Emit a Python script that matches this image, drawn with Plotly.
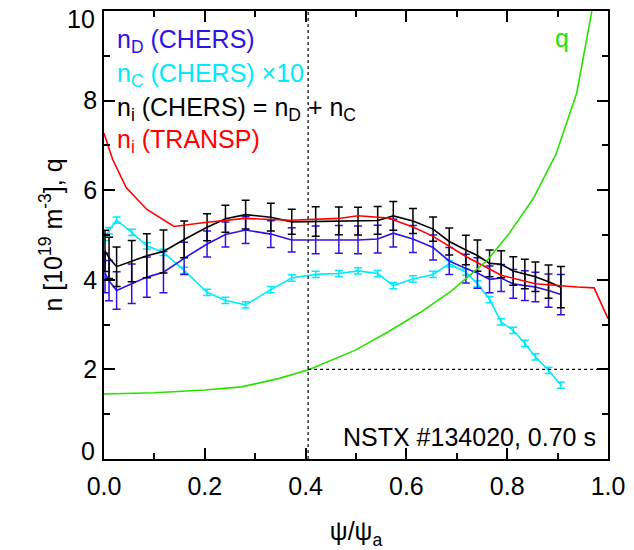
import plotly.graph_objects as go

# CHERS radial channels (normalised poloidal flux)
psi_chers = [0.002, 0.010, 0.025, 0.055, 0.085, 0.118, 0.159, 0.2045, 0.241, 0.281,
             0.331, 0.3725, 0.420, 0.466, 0.504, 0.543, 0.574, 0.613, 0.653, 0.685,
             0.718, 0.741, 0.765, 0.788, 0.812, 0.835, 0.856, 0.882, 0.9065]

# Deuterium density [1e19 m^-3]
n_D = [4.15, 3.98, 3.76, 3.91, 4.06, 4.17, 4.48, 4.80, 5.01, 5.11,
       5.02, 4.89, 4.89, 4.90, 4.89, 4.91, 5.04, 4.91, 4.72, 4.42,
       4.25, 4.15, 4.01, 4.04, 3.91, 3.87, 3.84, 3.76, 3.67]
n_D_err = [0.44, 0.45, 0.42, 0.44, 0.45, 0.46, 0.36, 0.29, 0.28, 0.30,
           0.30, 0.27, 0.31, 0.31, 0.31, 0.31, 0.31, 0.30, 0.28, 0.30,
           0.32, 0.34, 0.30, 0.30, 0.32, 0.33, 0.33, 0.37, 0.45]

# Carbon density [1e19 m^-3]
n_C = [0.495, 0.510, 0.533, 0.506, 0.476, 0.461, 0.421, 0.372, 0.354, 0.344,
       0.378, 0.404, 0.412, 0.414, 0.420, 0.414, 0.387, 0.402, 0.412, 0.436,
       0.417, 0.391, 0.356, 0.306, 0.287, 0.258, 0.228, 0.198, 0.165]
n_C_err = [0.007] * len(n_C)

n_i_err = [0.46, 0.46, 0.44, 0.46, 0.49, 0.48, 0.41, 0.30, 0.30, 0.32,
           0.31, 0.28, 0.33, 0.31, 0.31, 0.31, 0.32, 0.28, 0.27, 0.30,
           0.33, 0.35, 0.30, 0.30, 0.32, 0.33, 0.33, 0.37, 0.46]

# TRANSP ion density
psi_transp = [0.0, 0.017, 0.044, 0.085, 0.139, 0.20, 0.28, 0.37, 0.466, 0.504,
              0.564, 0.613, 0.653, 0.718, 0.788, 0.856, 0.939, 0.9725, 1.0]
n_i_transp = [7.27, 6.69, 6.06, 5.57, 5.19, 5.28, 5.37, 5.33, 5.37, 5.43,
              5.38, 5.18, 4.97, 4.52, 4.10, 3.91, 3.84, 3.82, 3.13]

# Safety factor
psi_q = [0.0, 0.10, 0.20, 0.273, 0.348, 0.407, 0.499, 0.564, 0.629, 0.69,
         0.76, 0.803, 0.852, 0.897, 0.938, 0.968]
q = [1.45, 1.48, 1.54, 1.61, 1.80, 2.00, 2.43, 2.84, 3.28, 3.76,
     4.43, 5.02, 5.82, 6.81, 8.17, 10.0]

psi_q2 = 0.405   # location of q = 2
q_ref = 2.0

# y tick labels; the end labels are placed just inside the frame
y_ticks = [0, 2, 4, 6, 8, 10]
y_tick_text = ["", "2", "4", "6", "8", ""]
y_end_labels = [("0", 0), ("10", 10)]

n_i = [d + c for d, c in zip(n_D, n_C)]
n_C_x10 = [10 * c for c in n_C]
n_C_err_x10 = [10 * e for e in n_C_err]

BLUE = "rgb(45,20,230)"
CYAN = "rgb(0,235,250)"
RED = "rgb(255,0,0)"
GREEN = "rgb(40,225,0)"
FONT = "Liberation Sans, Arial, Helvetica, sans-serif"
FS = 25

fig = go.Figure()


def err(vals, color):
    return dict(type="data", array=vals, visible=True, color=color,
                thickness=1.5, width=4)


fig.add_trace(go.Scatter(x=psi_chers, y=n_C_x10, mode="lines",
                         line=dict(color=CYAN, width=1.6),
                         error_y=err(n_C_err_x10, CYAN)))
fig.add_trace(go.Scatter(x=psi_chers, y=n_D, mode="lines",
                         line=dict(color=BLUE, width=1.6),
                         error_y=err(n_D_err, BLUE)))
fig.add_trace(go.Scatter(x=psi_chers, y=n_i, mode="lines",
                         line=dict(color="black", width=1.6),
                         error_y=err(n_i_err, "black")))
fig.add_trace(go.Scatter(x=psi_transp, y=n_i_transp, mode="lines",
                         line=dict(color=RED, width=1.6)))
fig.add_trace(go.Scatter(x=psi_q, y=q, mode="lines",
                         line=dict(color=GREEN, width=1.6)))

# q = 2 reference lines
fig.add_trace(go.Scatter(x=[psi_q2, psi_q2], y=[0, 10], mode="lines",
                         line=dict(color="black", width=1.2, dash="3px,3px")))
fig.add_trace(go.Scatter(x=[psi_q2, 1.0], y=[q_ref, q_ref], mode="lines",
                         line=dict(color="black", width=1.2, dash="3px,3px")))

axis_common = dict(
    showline=True, linecolor="black", linewidth=1.5, mirror="allticks",
    ticks="inside", ticklen=11, tickwidth=1.5, tickcolor="black",
    showgrid=False, zeroline=False,
    tickfont=dict(family=FONT, size=FS, color="black"),
)

fig.update_layout(
    width=634, height=550,
    margin=dict(l=104, r=20, t=9, b=91),
    paper_bgcolor="white", plot_bgcolor="white",
    showlegend=False,
    xaxis=dict(range=[0, 1], tickvals=[0, 0.2, 0.4, 0.6, 0.8, 1.0],
               tickformat=".1f", ticklabelstandoff=4,
               minor=dict(dtick=0.1, ticklen=6, ticks="inside",
                          tickcolor="black", tickwidth=1.5),
               title=dict(text="ψ/ψ<sub>a</sub>", standoff=24,
                          font=dict(family=FONT, size=FS, color="black")),
               **axis_common),
    yaxis=dict(range=[0, 10], tickvals=y_ticks, ticktext=y_tick_text,
               minor=dict(dtick=1, ticklen=6, ticks="inside",
                          tickcolor="black", tickwidth=1.5),
               title=dict(text="n [10<sup>19</sup> m<sup>-3</sup>], q", standoff=14,
                          font=dict(family=FONT, size=FS, color="black")),
               **axis_common),
)

# end labels of the y axis, kept inside the frame height
for text, val in y_end_labels:
    ypx = 17 if val == 10 else 451
    fig.add_annotation(text=text, xref="paper", yref="paper",
                       x=-7 / 510, y=(459 - ypx) / 450,
                       xanchor="right", yanchor="middle", showarrow=False,
                       font=dict(family=FONT, size=FS, color="black"))

labels = [
    ("n<sub>D</sub> (CHERS)", BLUE, 39),
    ("n<sub>C</sub> (CHERS) ×10", CYAN, 73),
    ("n<sub>i</sub> (CHERS) = n<sub>D</sub> + n<sub>C</sub>", "black", 107),
    ("n<sub>i</sub> (TRANSP)", RED, 140),
]
for text, color, ypx in labels:
    fig.add_annotation(text=text, xref="paper", yref="paper",
                       x=(115 - 104) / 510, y=(459 - ypx) / 450,
                       xanchor="left", yanchor="middle", showarrow=False,
                       font=dict(family=FONT, size=FS, color=color))

fig.add_annotation(text="q", xref="paper", yref="paper",
                   x=(567 - 104) / 510, y=(459 - 36) / 450,
                   xanchor="center", yanchor="middle", showarrow=False,
                   font=dict(family=FONT, size=FS, color=GREEN))
fig.add_annotation(text="NSTX #134020, 0.70 s", xref="paper", yref="paper",
                   x=(604 - 104) / 510, y=(459 - 437) / 450,
                   xanchor="right", yanchor="middle", showarrow=False,
                   font=dict(family=FONT, size=FS, color="black"))

fig.write_html("out.html")
